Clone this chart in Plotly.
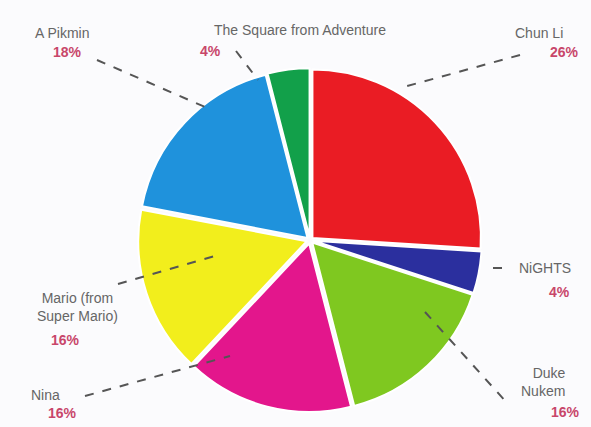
import plotly.graph_objects as go

names = ["Chun Li", "NiGHTS", "Duke Nukem", "Nina", "Mario (from Super Mario)", "A Pikmin", "The Square from Adventure"]
values = [26, 4, 16, 16, 16, 18, 4]
colors = ["#ea1c24", "#2b2f9e", "#7fc820", "#e3168c", "#f2ee1c", "#1f92dc", "#12a04a"]
name_texts = ["Chun Li", "NiGHTS", "Duke<br>Nukem", "Nina", "Mario (from<br>Super Mario)", "A Pikmin", "The Square from Adventure"]

W, H = 591, 427
# (x, y, xanchor, align) in pixels for name and percentage labels
name_pos = [(513, 33, "left", "left"), (517, 268, "left", "left"), (519, 382, "left", "right"),
            (45, 395, "center", "center"), (77, 307, "center", "center"), (62, 33, "center", "center"),
            (300, 30, "center", "center")]
pct_pos = [(548, 52, "left"), (547, 292, "left"), (549, 412, "left"),
           (62, 413, "center"), (65, 340, "center"), (67, 52, "center"), (210, 51, "center")]
# leader lines: (x0, y0, x1, y1) in pixels
leaders = [(520, 55, 400, 88), (493, 268, 505, 268), (425, 312, 508, 404),
           (85, 396, 230, 356), (118, 284, 218, 255), (97, 60, 212, 110), (236, 51, 258, 80)]

fig = go.Figure(go.Pie(
    labels=names, values=values, sort=False, direction="clockwise", rotation=0,
    marker=dict(colors=colors, line=dict(color="#ffffff", width=2)),
    textinfo="none", hoverinfo="label+percent", pull=0.02,
    domain=dict(x=[0.233, 0.816], y=[0.035, 0.84]), showlegend=False,
))

shapes = []
annotations = []
font = "Liberation Sans, Arial"
for i, v in enumerate(values):
    x0, y0, x1, y1 = leaders[i]
    shapes.append(dict(type="line", xref="paper", yref="paper",
                       x0=x0 / W, y0=1 - y0 / H, x1=x1 / W, y1=1 - y1 / H,
                       line=dict(color="#555555", width=2, dash="dash")))
    nx, ny, nxa, nal = name_pos[i]
    annotations.append(dict(x=nx / W, y=1 - ny / H, xref="paper", yref="paper",
                            xanchor=nxa, yanchor="middle", align=nal,
                            text=name_texts[i], showarrow=False,
                            font=dict(family=font, size=14, color="#666666")))
    px, py, pxa = pct_pos[i]
    annotations.append(dict(x=px / W, y=1 - py / H, xref="paper", yref="paper",
                            xanchor=pxa, yanchor="middle",
                            text=f"<b>{v}%</b>", showarrow=False,
                            font=dict(family=font, size=14, color="#c8466a")))

fig.update_layout(
    width=W, height=H, margin=dict(l=0, r=0, t=0, b=0),
    paper_bgcolor="#fbfbfd", plot_bgcolor="#fbfbfd",
    shapes=shapes, annotations=annotations,
)
fig.write_html("out.html")
